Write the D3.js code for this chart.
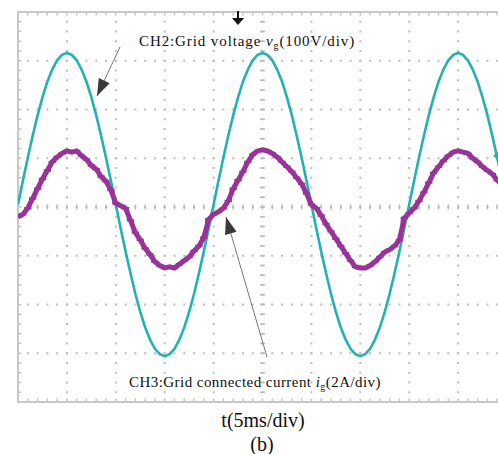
<!DOCTYPE html>
<html>
<head>
<meta charset="utf-8">
<script src="https://cdn.jsdelivr.net/npm/d3@7"></script>
<style>
  body { margin: 0; background: #fff; }
  svg { display: block; }
</style>
</head>
<body>
<script>
// time base: 0..50 ms, one sample every 0.5 ms (5 ms/div, 10 div)
const timeMs = d3.range(0, 50.01, 0.5);

// CH2 grid voltage v_g (V)
const voltage = [
  5, 54, 101, 146, 188, 225, 257, 282, 301, 312, 316, 312, 301, 282, 257, 225, 188, 146, 101, 54,
  5, -44, -91, -136, -178, -215, -247, -272, -291, -302, -306, -302, -291, -272, -247, -215, -178, -136, -91, -44,
  5, 54, 101, 146, 188, 225, 257, 282, 301, 312, 316, 312, 301, 282, 257, 225, 188, 146, 101, 54,
  5, -44, -91, -136, -178, -215, -247, -272, -291, -302, -306, -302, -291, -272, -247, -215, -178, -136, -91, -44,
  5, 54, 101, 146, 188, 225, 257, 282, 301, 312, 316, 312, 301, 282, 257, 225, 188, 146, 101, 54,
  5
];

const current = [
  -0.40, -0.30, -0.05, 0.35, 0.75, 1.15, 1.50, 1.85, 2.05, 2.20,
  2.30, 2.25, 2.30, 2.10, 1.95, 1.70, 1.55, 1.25, 1.05, 0.70,
  0.15, 0.05, -0.05, -0.55, -1.05, -1.35, -1.70, -1.95, -2.25, -2.40,
  -2.50, -2.45, -2.50, -2.35, -2.20, -2.05, -1.80, -1.60, -1.25, -0.50,
  -0.30, -0.20, -0.05, 0.25, 0.75, 1.10, 1.45, 1.85, 2.15, 2.30,
  2.35, 2.30, 2.20, 2.05, 1.85, 1.65, 1.45, 1.20, 0.95, 0.55,
  0.10, -0.05, -0.35, -0.70, -1.00, -1.30, -1.60, -1.90, -2.20, -2.45,
  -2.50, -2.50, -2.40, -2.25, -2.05, -1.85, -1.75, -1.60, -1.35, -0.45,
  -0.25, -0.05, 0.25, 0.60, 1.00, 1.40, 1.65, 1.90, 2.10, 2.25,
  2.30, 2.25, 2.20, 2.00, 1.85, 1.65, 1.50, 1.35, 1.10, 0.90,
  0.70
];

const W = 498, H = 454;
const pLeft = 18, pTop = 12, pRight = 507, pBottom = 402;

const svg = d3.select("body").append("svg").attr("width", W).attr("height", H);

let x = d3.scaleLinear().domain([0, 50]).range([pLeft, pRight]);
let yV = d3.scaleLinear().domain([-400, 400]).range([pBottom, pTop]);   // 100 V/div
let yI = d3.scaleLinear().domain([-8, 8]).range([pBottom, pTop]);       // 2 A/div

const majorX = x.ticks(10), minorX = d3.range(0, 50.01, 1);
const majorY = yV.ticks(8), minorY = d3.range(-400, 400.01, 20);

const grid = svg.append("g");

// dotted grid lines
for (let mx of majorX) {
  grid.selectAll(null).data(minorY).enter().append("rect")
    .attr("x", x(mx) - 1).attr("y", d => yV(d) - 1)
    .attr("width", 2).attr("height", 2).attr("fill", "#bdbdbd");
}
for (let my of majorY) {
  grid.selectAll(null).data(minorX).enter().append("rect")
    .attr("x", d => x(d) - 1).attr("y", yV(my) - 1)
    .attr("width", 2).attr("height", 2).attr("fill", "#bdbdbd");
}

// centre axes with small ticks
grid.selectAll(null).data(minorX).enter().append("line")
  .attr("x1", d => x(d)).attr("x2", d => x(d))
  .attr("y1", yV(0) - 2.5).attr("y2", yV(0) + 2.5)
  .attr("stroke", "#bbb").attr("stroke-width", 1.5);
grid.selectAll(null).data(minorY).enter().append("line")
  .attr("y1", d => yV(d)).attr("y2", d => yV(d))
  .attr("x1", x(25) - 2.5).attr("x2", x(25) + 2.5)
  .attr("stroke", "#bbb").attr("stroke-width", 1.5);

// border ticks
grid.selectAll(null).data(minorX).enter().append("line")
  .attr("x1", d => x(d)).attr("x2", d => x(d)).attr("y1", pTop).attr("y2", pTop + 3.5)
  .attr("stroke", "#c4c4c4").attr("stroke-width", 1.5);
grid.selectAll(null).data(minorX).enter().append("line")
  .attr("x1", d => x(d)).attr("x2", d => x(d)).attr("y1", pBottom).attr("y2", pBottom - 3.5)
  .attr("stroke", "#c4c4c4").attr("stroke-width", 1.5);
grid.selectAll(null).data(minorY).enter().append("line")
  .attr("y1", d => yV(d)).attr("y2", d => yV(d)).attr("x1", pLeft).attr("x2", pLeft + 3.5)
  .attr("stroke", "#c4c4c4").attr("stroke-width", 1.5);

// frame
grid.append("rect").attr("x", pLeft).attr("y", pTop)
  .attr("width", pRight - pLeft).attr("height", pBottom - pTop)
  .attr("fill", "none").attr("stroke", "#c8c8c8").attr("stroke-width", 2);

svg.append("clipPath").attr("id", "plot").append("rect")
  .attr("x", pLeft).attr("y", pTop).attr("width", pRight - pLeft).attr("height", pBottom - pTop);

const traces = svg.append("g").attr("clip-path", "url(#plot)");

let lineV = d3.line().x((d, i) => x(timeMs[i])).y(d => yV(d));
let lineI = d3.line().x((d, i) => x(timeMs[i])).y(d => yI(d));
let stepI = d3.line().curve(d3.curveStep).x((d, i) => x(timeMs[i])).y(d => yI(d));

traces.append("path").attr("d", lineV(voltage))
  .attr("fill", "none").attr("stroke", "#22b3b0").attr("stroke-width", 2.6);
// thick trace plus a thinner stepped copy for the sampled, jagged look
traces.append("path").attr("d", lineI(current))
  .attr("fill", "none").attr("stroke", "#993399").attr("stroke-width", 5);
traces.append("path").attr("d", stepI(current))
  .attr("fill", "none").attr("stroke", "#993399").attr("stroke-width", 2.4);

// trigger marker on top, channel marker on the right
svg.append("path").attr("d", "M237,11H239V18H244L238,25L232,18H237Z").attr("fill", "#111");
svg.append("path").attr("d", `M493,${yV(105)}L499,${yV(105) - 5}L499,${yV(105) + 5}Z`).attr("fill", "#22b3b0");

// annotations
let arrow = (x1, y1, x2, y2) => {
  svg.append("line").attr("x1", x1).attr("y1", y1).attr("x2", x2).attr("y2", y2)
    .attr("stroke", "#777").attr("stroke-width", 1);
  let a = Math.atan2(y2 - y1, x2 - x1), L = 17, w = 6;
  let bx = x2 - L * Math.cos(a), by = y2 - L * Math.sin(a);
  svg.append("path").attr("d",
    `M${x2},${y2}L${bx + w * Math.sin(a)},${by - w * Math.cos(a)}L${bx - w * Math.sin(a)},${by + w * Math.cos(a)}Z`)
    .attr("fill", "#3a3a3a");
};
arrow(120, 47, 97, 96);
arrow(267, 357, 226, 217);

let label = (tx, ty, spacing, pre, sym, post) => {
  let t = svg.append("text").attr("x", tx).attr("y", ty)
    .style("font", "15px 'Liberation Serif'").attr("fill", "#111")
    .style("letter-spacing", spacing + "px");
  t.append("tspan").text(pre);
  t.append("tspan").style("font-style", "italic").text(sym);
  t.append("tspan").attr("dy", 3).style("font-size", "10px").text("g");
  t.append("tspan").attr("dy", -3).text(post);
};
label(139, 46, 0.9, "CH2:Grid voltage ", "v", "(100V/div)");
label(129, 387, 0.45, "CH3:Grid connected current ", "i", "(2A/div)");

svg.append("text").attr("x", 263).attr("y", 427).attr("text-anchor", "middle")
  .style("font", "20px 'Liberation Serif'").attr("fill", "#111").text("t(5ms/div)");
svg.append("text").attr("x", 262).attr("y", 451).attr("text-anchor", "middle")
  .style("font", "20px 'Liberation Serif'").attr("fill", "#111").text("(b)");
</script>
</body>
</html>
